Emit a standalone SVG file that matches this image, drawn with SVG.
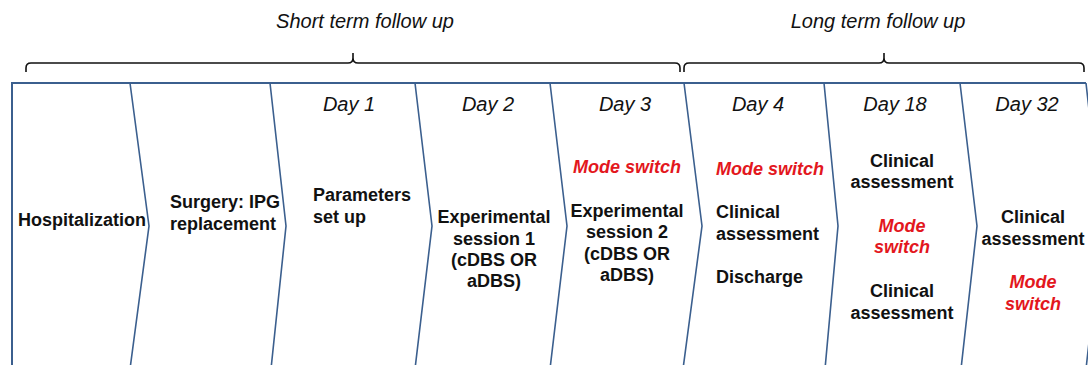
<svg xmlns="http://www.w3.org/2000/svg" width="1088" height="365" viewBox="0 0 1088 365">
<style>
.frame{fill:none;stroke:#3b5f8e;stroke-width:2}
.div{fill:none;stroke:#3b5f8e;stroke-width:1.6}
.brace{fill:none;stroke:#111;stroke-width:1.6}
.title{font-family:"Liberation Sans",Arial,sans-serif;font-style:italic;font-size:20px;fill:#111}
.day{font-family:"Liberation Sans",Arial,sans-serif;font-style:italic;font-size:20px;fill:#111;text-anchor:middle}
.b{font-family:"Liberation Sans",Arial,sans-serif;font-weight:bold;font-size:18px;fill:#111}
.r{font-family:"Liberation Sans",Arial,sans-serif;font-weight:bold;font-style:italic;font-size:18px;fill:#e3171d}
.c{text-anchor:middle}
</style>
<rect width="1088" height="365" fill="#fff"/>
<g id="titles">
<text class="title" x="365" y="28" text-anchor="middle">Short term follow up</text>
<text class="title" x="878" y="28" text-anchor="middle">Long term follow up</text>
</g>
<g id="braces">
<path class="brace" d="M26,72 V68 Q26,63 31,63 H348 Q353,63 353,58 V53 M353,58 Q353,63 358,63 H675 Q680,63 680,68 V72"/>
<path class="brace" d="M684,72 V68 Q684,63 689,63 H879 Q884,63 884,58 V53 M884,58 Q884,63 889,63 H1079 Q1084,63 1084,68 V72"/>
</g>
<g id="connectors">
<path class="frame" d="M12,370 V83 H1086"/>
<polyline class="div" points="130,83 149,226 130,369"/>
<polyline class="div" points="270,83 286,226 271,369"/>
<polyline class="div" points="415,83 432,226 415,369"/>
<polyline class="div" points="550,83 567,226 550,369"/>
<polyline class="div" points="684,83 702,226 683,369"/>
<polyline class="div" points="824,83 838,226 825,369"/>
<polyline class="div" points="960,83 977,226 961,369"/>
<polyline class="div" points="1086,83 1102,226 1086,369"/>
</g>
<g id="hospitalization">
<text class="b" x="18" y="226">Hospitalization</text>
</g>
<g id="surgery">
<text class="b" x="170" y="208">Surgery: IPG</text>
<text class="b" x="170" y="230">replacement</text>
</g>
<g id="day1">
<text class="day" x="349" y="111">Day 1</text>
<text class="b" x="313" y="201">Parameters</text>
<text class="b" x="313" y="223">set up</text>
</g>
<g id="day2">
<text class="day" x="488" y="111">Day 2</text>
<text class="b c" x="494" y="223">Experimental</text>
<text class="b c" x="494" y="245">session 1</text>
<text class="b c" x="494" y="266">(cDBS OR</text>
<text class="b c" x="494" y="287">aDBS)</text>
</g>
<g id="day3">
<text class="day" x="625" y="111">Day 3</text>
<text class="r c" x="627" y="173">Mode switch</text>
<text class="b c" x="627" y="217">Experimental</text>
<text class="b c" x="627" y="238">session 2</text>
<text class="b c" x="627" y="260">(cDBS OR</text>
<text class="b c" x="627" y="281">aDBS)</text>
</g>
<g id="day4">
<text class="day" x="758" y="111">Day 4</text>
<text class="r" x="716" y="175">Mode switch</text>
<text class="b" x="716" y="218">Clinical</text>
<text class="b" x="716" y="240">assessment</text>
<text class="b" x="716" y="283">Discharge</text>
</g>
<g id="day18">
<text class="day" x="895" y="111">Day 18</text>
<text class="b c" x="902" y="167">Clinical</text>
<text class="b c" x="902" y="188">assessment</text>
<text class="r c" x="902" y="232">Mode</text>
<text class="r c" x="902" y="253">switch</text>
<text class="b c" x="902" y="297">Clinical</text>
<text class="b c" x="902" y="319">assessment</text>
</g>
<g id="day32">
<text class="day" x="1027" y="111">Day 32</text>
<text class="b c" x="1033" y="223">Clinical</text>
<text class="b c" x="1033" y="245">assessment</text>
<text class="r c" x="1033" y="288">Mode</text>
<text class="r c" x="1033" y="310">switch</text>
</g>
</svg>
